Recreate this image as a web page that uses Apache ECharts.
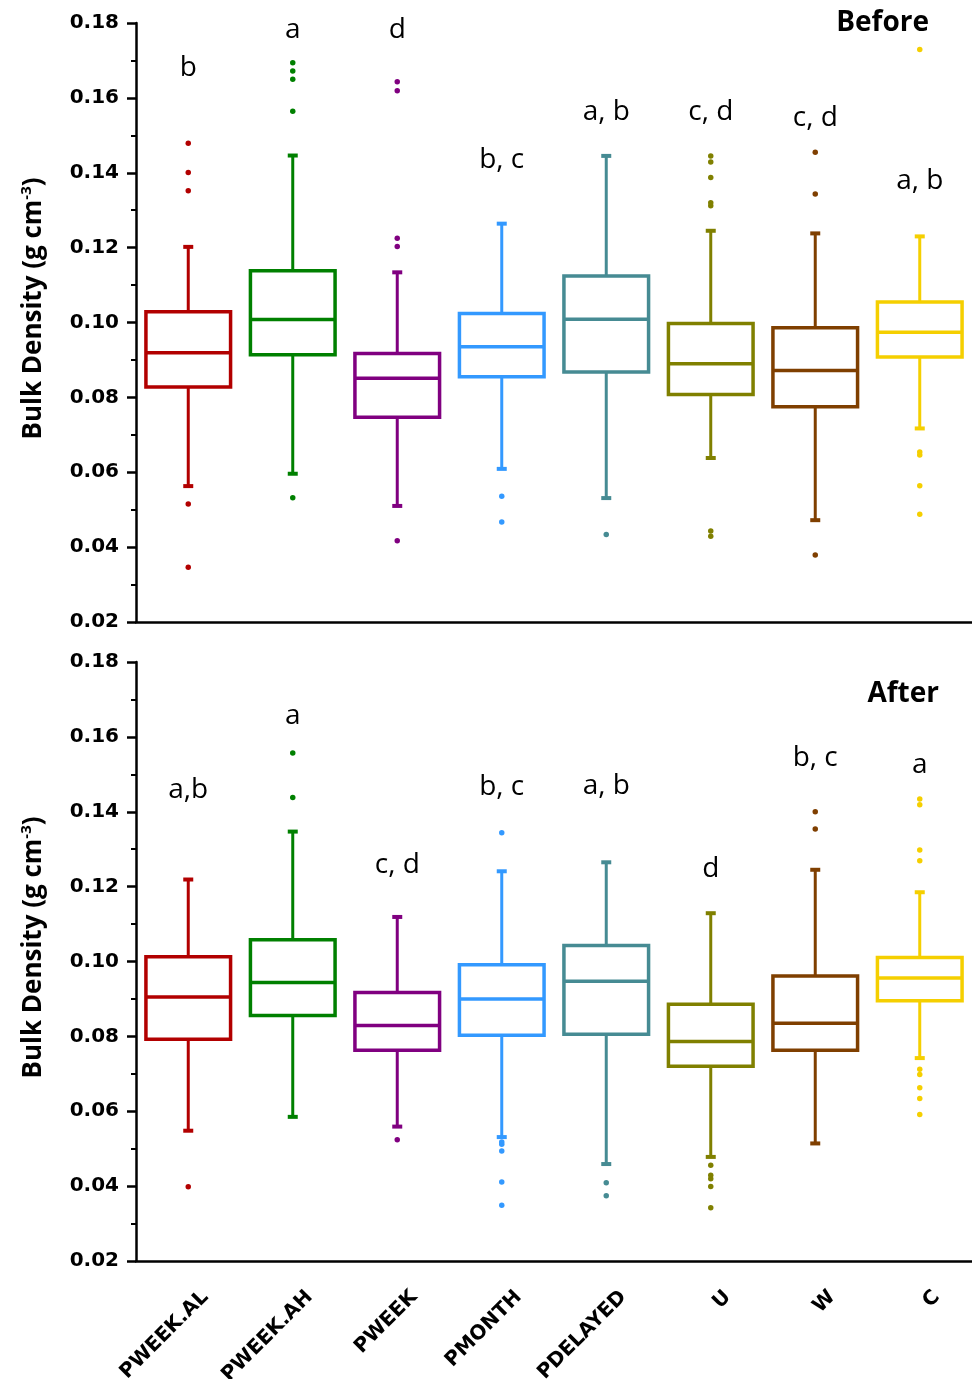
<!DOCTYPE html>
<html>
<head>
<meta charset="utf-8">
<script src="https://cdn.jsdelivr.net/npm/echarts@6/dist/echarts.min.js"></script>
<style>
  html, body { margin: 0; padding: 0; background: #fff; }
  #main { width: 972px; height: 1379px; }
</style>
</head>
<body>
<div id="main"></div>
<script>
// categories and colours
var categories = ['PWEEK.AL', 'PWEEK.AH', 'PWEEK', 'PMONTH', 'PDELAYED', 'U', 'W', 'C'];
var colors = ['#B20000', '#008000', '#800080', '#3399FF', '#468B93', '#808000', '#7F3F00', '#F5CF00'];

// Before
var beforeLow    = [0.0563, 0.0596, 0.0510, 0.0609, 0.0531, 0.0638, 0.0472, 0.0717];
var beforeQ1     = [0.0828, 0.0914, 0.0747, 0.0855, 0.0868, 0.0808, 0.0775, 0.0908];
var beforeMedian = [0.0919, 0.1008, 0.0851, 0.0935, 0.1009, 0.0890, 0.0872, 0.0974];
var beforeQ3     = [0.1029, 0.1138, 0.0917, 0.1024, 0.1124, 0.0997, 0.0986, 0.1055];
var beforeHigh   = [0.1202, 0.1446, 0.1134, 0.1264, 0.1445, 0.1245, 0.1238, 0.1230];
var beforeOutliers = [
    [0.1479, 0.1401, 0.1352, 0.0515, 0.0346],
    [0.1694, 0.1672, 0.1650, 0.1564, 0.0532],
    [0.1643, 0.1619, 0.1225, 0.1203, 0.0417],
    [0.0536, 0.0467],
    [0.0434],
    [0.1445, 0.1429, 0.1387, 0.1320, 0.1312, 0.0443, 0.0429],
    [0.1455, 0.1343, 0.0379],
    [0.1729, 0.0654, 0.0646, 0.0564, 0.0488]
];
var beforeLetters = ['b', 'a', 'd', 'b, c', 'a, b', 'c, d', 'c, d', 'a, b'];
var beforeLetterY = [0.168, 0.178, 0.178, 0.1434, 0.1562, 0.1562, 0.1546, 0.1378];

// After
var afterLow    = [0.0548, 0.0585, 0.0559, 0.0531, 0.0459, 0.0478, 0.0514, 0.0742];
var afterQ1     = [0.0792, 0.0856, 0.0763, 0.0803, 0.0806, 0.0720, 0.0763, 0.0895];
var afterMedian = [0.0905, 0.0944, 0.0829, 0.0900, 0.0947, 0.0786, 0.0835, 0.0956];
var afterQ3     = [0.1013, 0.1058, 0.0917, 0.0991, 0.1043, 0.0886, 0.0961, 0.1011];
var afterHigh   = [0.1219, 0.1347, 0.1119, 0.1241, 0.1265, 0.1129, 0.1245, 0.1185];
var afterOutliers = [
    [0.0398],
    [0.1557, 0.1438],
    [0.0524],
    [0.1344, 0.0518, 0.0512, 0.0494, 0.0411, 0.0349],
    [0.0409, 0.0374],
    [0.0456, 0.0429, 0.0420, 0.0399, 0.0342],
    [0.1400, 0.1354],
    [0.1434, 0.1419, 0.1298, 0.1269, 0.0712, 0.0698, 0.0663, 0.0634, 0.0591]
];
var afterLetters = ['a,b', 'a', 'c, d', 'b, c', 'a, b', 'd', 'b, c', 'a'];
var afterLetterY = [0.1458, 0.1656, 0.1258, 0.1466, 0.1469, 0.1247, 0.1543, 0.1525];

var tickFont = 'DejaVu Sans';
var textFont = 'Open Sans';

// box + whiskers with short caps
function renderBox(params, api) {
    var i = api.value(0);
    var lo = api.coord([i, api.value(1)]);
    var q1 = api.coord([i, api.value(2)]);
    var md = api.coord([i, api.value(3)]);
    var q3 = api.coord([i, api.value(4)]);
    var hi = api.coord([i, api.value(5)]);
    var bw = api.size([1, 0])[0] * 0.81;
    var cx = md[0];
    var c = colors[i];
    var cap = 5;
    return {
        type: 'group',
        children: [
            {type: 'line', shape: {x1: cx, y1: q3[1], x2: cx, y2: hi[1]}, style: {stroke: c, lineWidth: 3}},
            {type: 'line', shape: {x1: cx, y1: q1[1], x2: cx, y2: lo[1]}, style: {stroke: c, lineWidth: 3}},
            {type: 'line', shape: {x1: cx - cap, y1: hi[1], x2: cx + cap, y2: hi[1]}, style: {stroke: c, lineWidth: 4}},
            {type: 'line', shape: {x1: cx - cap, y1: lo[1], x2: cx + cap, y2: lo[1]}, style: {stroke: c, lineWidth: 4}},
            {type: 'rect', shape: {x: cx - bw / 2, y: q3[1], width: bw, height: q1[1] - q3[1]},
                style: {fill: '#fff', stroke: c, lineWidth: 3.5}},
            {type: 'line', shape: {x1: cx - bw / 2, y1: md[1], x2: cx + bw / 2, y2: md[1]}, style: {stroke: c, lineWidth: 3.5}}
        ]
    };
}

function letterRenderer(letters) {
    return function (params, api) {
        var i = api.value(0);
        var p = api.coord([i, api.value(1)]);
        return {
            type: 'text',
            x: p[0],
            y: p[1],
            style: {
                text: letters[i],
                fill: '#000',
                fontSize: 28,
                fontFamily: textFont,
                align: 'center',
                verticalAlign: 'middle'
            }
        };
    };
}

function panelSeries(g, low, q1, med, q3, high, outliers, letters, letterY) {
    var boxData = [], outData = [], letterData = [];
    for (var i = 0; i < categories.length; i++) {
        boxData.push([i, low[i], q1[i], med[i], q3[i], high[i]]);
        for (var k = 0; k < outliers[i].length; k++) {
            outData.push([i, outliers[i][k]]);
        }
        letterData.push([i, letterY[i]]);
    }
    return [
        {
            type: 'custom', xAxisIndex: g, yAxisIndex: g, clip: false,
            renderItem: renderBox, data: boxData, silent: true
        },
        {
            type: 'scatter', xAxisIndex: g, yAxisIndex: g, symbolSize: 5.5,
            itemStyle: {color: function (p) { return colors[p.value[0]]; }, opacity: 1},
            data: outData, silent: true
        },
        {
            type: 'custom', xAxisIndex: g, yAxisIndex: g, clip: false,
            renderItem: letterRenderer(letters), data: letterData, silent: true
        }
    ];
}

function xAxisFor(g, showLabels) {
    return {
        type: 'category', gridIndex: g, data: categories, boundaryGap: true,
        axisLine: {lineStyle: {color: '#000', width: 2.5}},
        axisTick: {alignWithLabel: true, length: 9, lineStyle: {color: '#000', width: 2.5}},
        axisLabel: {
            show: showLabels, rotate: 45, margin: 16, color: '#000', interval: 0,
            fontFamily: tickFont, fontWeight: 'bold', fontSize: 20,
            verticalAlign: 'top', padding: [14, 0, 0, 0]
        },
        splitLine: {show: false}
    };
}

function yAxisFor(g) {
    return {
        type: 'value', gridIndex: g, min: 0.02, max: 0.18, interval: 0.02,
        name: '{a|Bulk Density (g cm}{s|-3}{a|)}',
        nameLocation: 'middle', nameGap: 88,
        nameTextStyle: {
            padding: [0, 0, 0, 28],
            rich: {
                a: {fontFamily: textFont, fontWeight: 'bold', fontSize: 26, color: '#000'},
                s: {fontFamily: textFont, fontWeight: 'bold', fontSize: 15, color: '#000', verticalAlign: 'top', padding: [0, 0, 14, 0]}
            }
        },
        axisLine: {show: true, lineStyle: {color: '#000', width: 2.5}},
        axisTick: {show: true, length: 9, lineStyle: {color: '#000', width: 2.5}},
        minorTick: {show: true, splitNumber: 2, length: 5, lineStyle: {color: '#000', width: 2}},
        axisLabel: {
            color: '#000', fontFamily: tickFont, fontWeight: 'bold', fontSize: 20, margin: 17,
            formatter: function (v) { return v.toFixed(2); }
        },
        splitLine: {show: false}
    };
}

var chart = echarts.init(document.getElementById('main'));
chart.setOption({
    backgroundColor: '#fff',
    animation: false,
    title: [
        {text: 'Before', right: 38, top: 4, textStyle: {fontFamily: textFont, fontWeight: 'bold', fontSize: 28, color: '#000'}},
        {text: 'After', right: 28, top: 675, textStyle: {fontFamily: textFont, fontWeight: 'bold', fontSize: 28, color: '#000'}}
    ],
    grid: [
        {left: 136, width: 836, top: 23, height: 599, containLabel: false, outerBoundsMode: 'none'},
        {left: 136, width: 836, top: 662, height: 599, containLabel: false, outerBoundsMode: 'none'}
    ],
    xAxis: [xAxisFor(0, false), xAxisFor(1, true)],
    yAxis: [yAxisFor(0), yAxisFor(1)],
    series: []
        .concat(panelSeries(0, beforeLow, beforeQ1, beforeMedian, beforeQ3, beforeHigh, beforeOutliers, beforeLetters, beforeLetterY))
        .concat(panelSeries(1, afterLow, afterQ1, afterMedian, afterQ3, afterHigh, afterOutliers, afterLetters, afterLetterY))
});
</script>
</body>
</html>
